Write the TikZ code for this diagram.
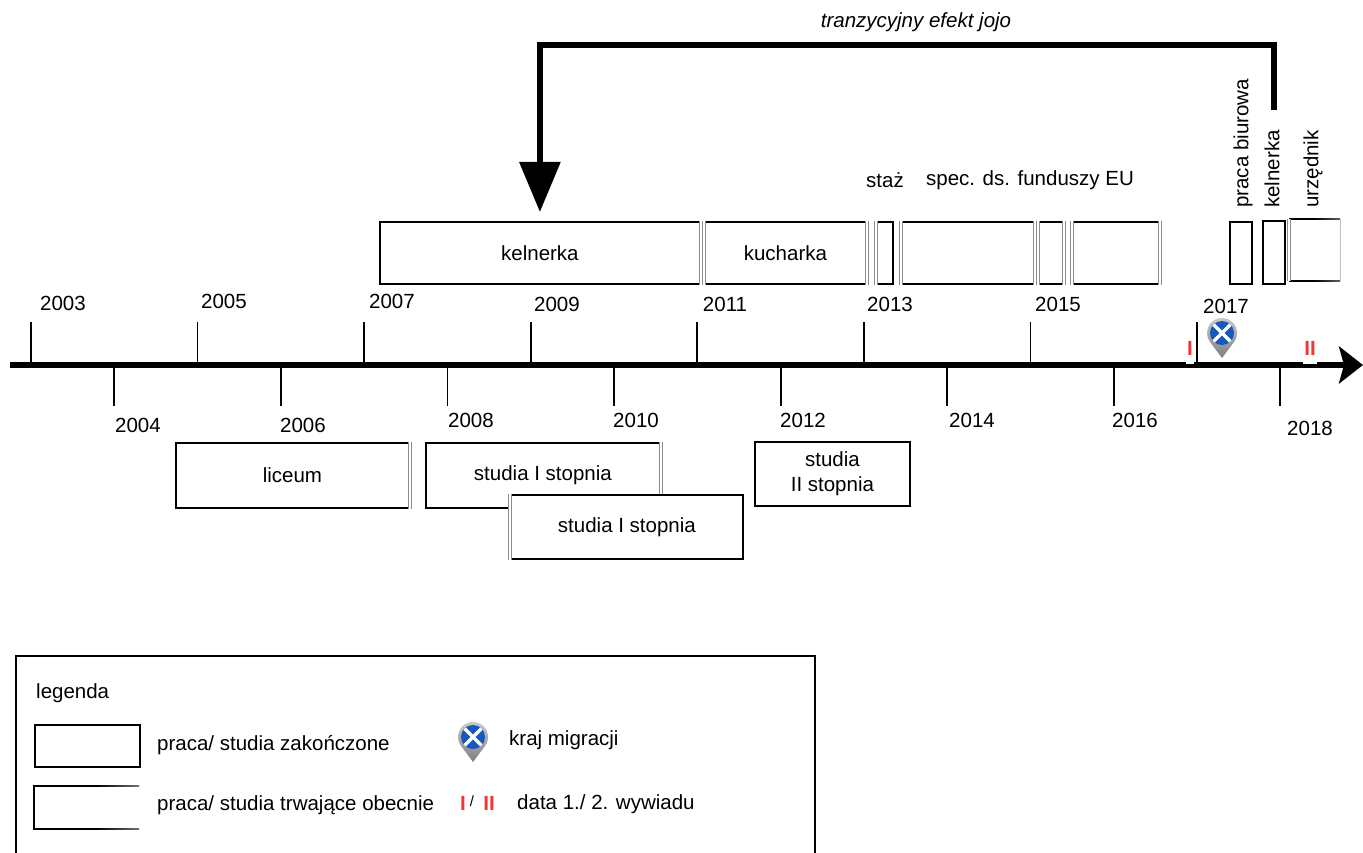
\documentclass[tikz,border=0pt]{standalone}
\usepackage{fontspec}
\setmainfont{Liberation Sans}
\usetikzlibrary{arrows.meta,calc}
\definecolor{flagblue}{RGB}{22,88,190}
\definecolor{markred}{RGB}{240,55,55}
\pgfdeclarehorizontalshading{fadewhite}{100bp}{color(0bp)=(black); color(55bp)=(black); color(100bp)=(white)}
\pgfdeclarehorizontalshading{fadegray}{100bp}{color(0bp)=(black); color(50bp)=(black); color(100bp)=(black!25)}
\newcommand\myfs{\fontsize{20.5pt}{25pt}\selectfont}
\tikzset{
  box/.style={draw=black, line width=1.8pt, fill=white, anchor=north west, inner sep=0pt},
  ghostbox/.style={draw=none, anchor=north west, inner sep=0pt},
  dbl/.style={draw=black!45, line width=0.9pt, double=white, double distance=1.6pt},
  yrtick/.style={line width=1.8pt},
  redmark/.style={text=markred, font=\myfs\bfseries},
  vlabel/.style={rotate=90, anchor=west},
  locpin/.pic={
    \shade[top color=black!20, bottom color=black!50]
      (0,25) -- (12,9) arc[start angle=36.87, end angle=-216.87, radius=15] -- cycle;
    \fill[flagblue] (0,0) circle[radius=12];
    \begin{scope}
      \clip (0,0) circle[radius=12];
      \draw[white, line width=3.5pt] (-12,-12) -- (12,12) (-12,12) -- (12,-12);
    \end{scope}
  }
}
\begin{document}
\begin{tikzpicture}[x=1pt, y=-1pt, line join=miter, every node/.style={font=\myfs, inner sep=0pt}]
\useasboundingbox (0,0) rectangle (1363,853);
\fill[white] (0,0) rectangle (1363,853);

% ---------- axis ----------
\coordinate (axs) at (10,365);
\coordinate (axe) at (1363,365);
\draw[line width=6pt, -{Stealth[length=24pt,width=37pt,inset=5pt]}] (axs) -- (axe);

\foreach \yr/\lx/\ly in {2003/63/303, 2005/224/301, 2007/392/301, 2009/557/304,
                         2011/725/304, 2013/890/304, 2015/1058/304, 2017/1226/306}{
  \pgfmathsetmacro\tx{31+(\yr-2003)*83.29}
  \node (y\yr) at (\lx,\ly) {\yr};
  \coordinate (t\yr) at (\tx,322);
  \draw[yrtick] (t\yr) -- (t\yr |- axs);
}
\foreach \yr/\lx/\ly in {2004/138/425, 2006/303/425, 2008/471/420, 2010/636/420,
                         2012/803/420, 2014/972/420, 2016/1135/420, 2018/1310/428}{
  \pgfmathsetmacro\tx{31+(\yr-2003)*83.29}
  \node (y\yr) at (\lx,\ly) {\yr};
  \coordinate (t\yr) at (\tx,406);
  \draw[yrtick] (t\yr |- axs) -- (t\yr);
}

% interview marks
\fill[white] (1186,361.5) rectangle (1194,364);
\fill[white] (1303,361.5) rectangle (1317,364);
\node[redmark] (intI) at (1190,348) {I};
\node[redmark] (intII) at (1310,348) {II};

% migration pin
\pic at (1222,333) {locpin};

% ---------- upper boxes ----------
\node[box, minimum width=320pt, minimum height=62pt] (kelA) at (379,221) {kelnerka};
\draw[dbl] (kelA.north east) -- (kelA.south east);

\node[box, minimum width=161pt, minimum height=62pt] (kuch) at (704,221) {kucharka};
\draw[dbl] (kuch.north west) -- (kuch.south west);
\draw[dbl] (kuch.north east) -- (kuch.south east);

\node[box, minimum width=16pt, minimum height=62pt] (staz) at (876,221) {};
\draw[dbl] (staz.north west) -- (staz.south west);

\node[box, minimum width=132pt, minimum height=62pt] (specA) at (901,221) {};
\node[box, minimum width=24pt, minimum height=62pt] (specB) at (1038,221) {};
\node[box, minimum width=86pt, minimum height=62pt] (specC) at (1072,221) {};
\foreach \b in {specA,specB,specC}{
  \draw[dbl] (\b.north west) -- (\b.south west);
  \draw[dbl] (\b.north east) -- (\b.south east);
}
\node (stazl) at (885,180) {staż};
\node (specl) at (1030,180) {spec. ds. funduszy EU};

\node[box, minimum width=22pt, minimum height=62pt] (biur) at (1229,221) {};
\node[box, minimum width=22pt, minimum height=63pt] (kelB) at (1262,220) {};
\node[ghostbox, minimum width=51pt, minimum height=62pt] (urz) at (1289,219) {};
\shade[shading=fadegray] (1289,218.1) rectangle (1340,219.9);
\shade[shading=fadegray] (1289,280.1) rectangle (1340,281.9);
\draw[black!25, line width=1.2pt] (urz.north east) -- (urz.south east);
\draw[dbl] (urz.north west) -- (urz.south west);

\node[vlabel] (biurl) at (1243,208) {praca biurowa};
\node[vlabel] (kelBl) at (1272,208) {kelnerka};
\node[vlabel] (urzl) at (1313,208) {urzędnik};

% ---------- yo-yo arrow ----------
\coordinate (jfrom) at (1274,110);
\coordinate (jr) at (1274,45);
\coordinate (jl) at (kelA.north |- jr);
\draw[line width=6pt, -{Triangle[length=50pt,width=40pt]}, shorten >=9pt]
  (jfrom) -- (jr) -- (jl) -- (kelA.north);
\node[font=\myfs\itshape] (yoyo) at (916,22) {tranzycyjny efekt jojo};

% ---------- lower boxes ----------
\node[box, minimum width=233pt, minimum height=65pt] (lic) at (175,442) {liceum};
\draw[dbl] (lic.north east) -- (lic.south east);

\node[box, minimum width=234pt, minimum height=65pt] (stA) at (425,442) {studia I stopnia};
\draw[dbl] (stA.north east) -- (stA.south east);

\node[box, minimum width=232pt, minimum height=64pt] (stB) at (510,494) {studia I stopnia};
\draw[dbl] (stB.north west) -- (stB.south west);

\node[box, minimum width=155pt, minimum height=64pt, align=center] (stII) at (754,441) {studia\\II stopnia};

% ---------- legend ----------
\node[box, fill=none, minimum width=799pt, minimum height=215pt] (leg) at (15,655) {};
\node[anchor=west] (legt) at (36,693) {legenda};

\node[box, minimum width=105pt, minimum height=42pt] (lbA) at (34,724) {};
\node[anchor=west] (lbAt) at (157,745) {praca/ studia zakończone};

\node[ghostbox, minimum width=105pt, minimum height=43pt] (lbB) at (34,786) {};
\draw[black, line width=1.8pt] (lbB.north west) -- (lbB.south west);
\shade[shading=fadewhite] (33.1,785.1) rectangle (139,786.9);
\shade[shading=fadewhite] (33.1,828.1) rectangle (139,829.9);
\node[anchor=west] (lbBt) at (157,805) {praca/ studia trwające obecnie};

\pic at (473,737) {locpin};
\node[anchor=west] (pint) at (509,740) {kraj migracji};

\node[redmark] (lI) at (463,803) {I};
\node (lsl) at (472,801) {\fontsize{15pt}{18pt}\selectfont /};
\node[redmark] (lII) at (489,803) {II};
\node[anchor=west] (lIt) at (517,804) {data 1./ 2. wywiadu};
\end{tikzpicture}
\end{document}
